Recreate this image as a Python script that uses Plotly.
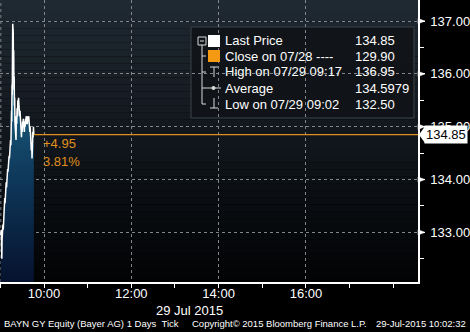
import plotly.graph_objects as go

# ---------------- data ----------------
DAY = "2015-07-29 "
times = ["09:00:30","09:01:00","09:01:20","09:01:40","09:02:00","09:02:20","09:02:40","09:03:00",
         "09:03:30","09:04:00","09:04:30","09:05:00","09:05:30","09:06:00","09:06:30","09:07:00",
         "09:07:30","09:08:00","09:08:30","09:09:00","09:09:30","09:10:00","09:10:30","09:11:00",
         "09:11:30","09:12:00","09:12:30","09:13:00","09:13:30","09:14:00","09:14:30","09:15:00",
         "09:15:20","09:15:40","09:16:00","09:16:20","09:16:40","09:17:00","09:17:20","09:17:40",
         "09:18:00","09:18:20","09:18:40","09:19:00","09:19:20","09:19:40","09:20:00","09:20:30",
         "09:21:00","09:21:30","09:22:00","09:22:30","09:23:00","09:23:30","09:24:00","09:24:30",
         "09:25:00","09:25:30","09:26:00","09:26:30","09:27:00","09:27:30","09:28:00","09:28:30",
         "09:29:00","09:29:30","09:30:00","09:30:30","09:31:00","09:31:30","09:32:00","09:32:30",
         "09:33:00","09:33:30","09:34:00","09:34:30","09:35:00","09:35:30","09:36:00","09:36:30",
         "09:37:00","09:37:30","09:38:00","09:38:30","09:39:00","09:39:30","09:40:00","09:40:30",
         "09:41:00","09:41:30","09:42:00","09:42:30","09:43:00","09:43:30","09:44:00","09:44:30",
         "09:45:00","09:45:30","09:46:00"]
prices = [132.95,132.70,133.05,132.80,132.50,132.85,133.10,132.95,
          133.15,133.05,133.30,133.45,133.40,133.65,133.55,133.75,
          133.70,133.95,133.85,134.05,134.00,134.20,134.15,134.35,
          134.25,134.45,134.40,134.60,134.50,134.75,134.65,134.85,
          135.30,135.10,135.80,135.60,136.40,136.95,136.60,136.80,
          136.20,136.45,135.70,135.95,135.40,135.55,135.10,134.80,
          135.00,134.75,135.20,135.05,135.35,135.20,135.50,135.35,
          135.55,135.40,135.45,135.20,135.30,135.05,135.25,134.95,
          134.80,135.00,134.90,135.10,135.00,135.15,134.95,135.05,
          134.90,135.10,135.00,135.15,135.05,135.20,135.10,135.15,
          135.05,135.20,135.10,135.15,135.20,135.05,135.10,134.90,
          135.00,134.80,134.95,134.55,134.70,134.40,134.60,134.90,
          134.80,135.00,134.85]

last_price = 134.85
legend_labels = ["Last Price", "Close on 07/28 ----", "High on 07/29 09:17", "Average", "Low on 07/29 09:02"]
legend_values = ["134.85", "129.90", "136.95", "134.5979", "132.50"]
change_text = ["+4.95", "3.81%"]
y_ticks = [133, 134, 135, 136, 137]
x_ticks = ["10:00", "12:00", "14:00", "16:00"]
x_start, x_end = DAY + "08:59:30", DAY + "18:34:00"
y_min, y_max = 132.06, 137.40

# ---------------- layout helpers ----------------
W, H = 470, 332
ML, MR, MT, MB = 0, 52, 0, 50
PW, PH = W - ML - MR, H - MT - MB
FONT = "Liberation Sans, Arial, sans-serif"
ORANGE = "#e0901f"

def px(x):
    return (x - ML) / PW

def py(y):
    return 1 - (y - MT) / PH

xs = [DAY + t for t in times]

fig = go.Figure()
fig.add_trace(go.Scatter(
    x=xs, y=prices, mode="lines",
    line=dict(color="white", width=1.5),
    fill="tozeroy",
    fillgradient=dict(type="vertical", start=y_min, stop=136.2,
                      colorscale=[[0, "#06122e"], [0.5, "#0f3a5c"], [1, "#1e6a8c"]]),
    hoverinfo="skip", showlegend=False))
fig.add_trace(go.Scatter(
    x=[xs[-1], x_end], y=[last_price, last_price], mode="lines",
    line=dict(color=ORANGE, width=1.2), hoverinfo="skip", showlegend=False))

shapes = []
# background gradient of plot area
top = (31, 41, 50)
bot = (2, 3, 5)
N = 40
for i in range(N):
    f = i / (N - 1)
    c = tuple(int(round(top[k] + (bot[k] - top[k]) * f)) for k in range(3))
    shapes.append(dict(type="rect", xref="paper", yref="paper", layer="below",
                       x0=0, x1=1, y0=1 - (i + 1) / N, y1=1 - i / N,
                       fillcolor="rgb(%d,%d,%d)" % c, line=dict(width=0)))
# left dotted edge line
shapes.append(dict(type="line", xref="paper", yref="paper", layer="below", x0=0.002, x1=0.002, y0=0, y1=1,
                   line=dict(color="#7d8389", width=1, dash="3px,3px")))
# legend box
shapes.append(dict(type="rect", xref="paper", yref="paper", layer="below",
                   x0=px(191), x1=px(414), y0=py(118), y1=py(27),
                   fillcolor="rgba(16,20,24,0.92)", line=dict(color="#3c4248", width=1)))
# y tick triangles
for v in y_ticks:
    shapes.append(dict(type="path", xref="paper", yref="y", layer="above",
                       path="M %f,%f L %f,%f L %f,%f Z" % (1.0, v + 0.05, px(425), v, 1.0, v - 0.05),
                       fillcolor="white", line=dict(color="white", width=0.5)))
# last price tag pointer
shapes.append(dict(type="path", xref="paper", yref="y", layer="above",
                   path="M %f,%f L %f,%f L %f,%f Z" % (px(419), last_price, px(425), last_price + 0.16,
                                                        px(425), last_price - 0.16),
                   fillcolor="white", line=dict(width=0)))
# legend tree lines and symbols
LC = "#d8d8d8"
rows = [41, 56, 72, 88, 104]
shapes.append(dict(type="rect", xref="paper", yref="paper", x0=px(198), x1=px(206), y0=py(45), y1=py(37),
                   line=dict(color=LC, width=1)))
shapes.append(dict(type="line", xref="paper", yref="paper", x0=px(200), x1=px(204), y0=py(41), y1=py(41),
                   line=dict(color=LC, width=1)))
shapes.append(dict(type="line", xref="paper", yref="paper", x0=px(202), x1=px(202), y0=py(45), y1=py(104),
                   line=dict(color=LC, width=1)))
for r in rows[1:]:
    shapes.append(dict(type="line", xref="paper", yref="paper", x0=px(202), x1=px(206), y0=py(r), y1=py(r),
                       line=dict(color=LC, width=1)))
shapes.append(dict(type="rect", xref="paper", yref="paper", x0=px(208), x1=px(220), y0=py(47), y1=py(35),
                   fillcolor="white", line=dict(width=0)))
shapes.append(dict(type="rect", xref="paper", yref="paper", x0=px(208), x1=px(220), y0=py(62), y1=py(50),
                   fillcolor="#f39a12", line=dict(width=0)))
# high symbol
shapes.append(dict(type="line", xref="paper", yref="paper", x0=px(210), x1=px(218), y0=py(67), y1=py(67),
                   line=dict(color=LC, width=1)))
shapes.append(dict(type="line", xref="paper", yref="paper", x0=px(214), x1=px(214), y0=py(67), y1=py(77),
                   line=dict(color=LC, width=1)))
# average symbol
shapes.append(dict(type="line", xref="paper", yref="paper", x0=px(206), x1=px(221), y0=py(88), y1=py(88),
                   line=dict(color=LC, width=1)))
shapes.append(dict(type="circle", xref="paper", yref="paper", x0=px(211.5), x1=px(215.5), y0=py(90), y1=py(86),
                   fillcolor=LC, line=dict(width=0)))
# low symbol
shapes.append(dict(type="line", xref="paper", yref="paper", x0=px(214), x1=px(214), y0=py(98), y1=py(108),
                   line=dict(color=LC, width=1)))
shapes.append(dict(type="line", xref="paper", yref="paper", x0=px(210), x1=px(218), y0=py(108), y1=py(108),
                   line=dict(color=LC, width=1)))

ann = []
for lab, val, r in zip(legend_labels, legend_values, rows):
    ann.append(dict(xref="paper", yref="paper", x=px(223), y=py(r), xanchor="left", yanchor="middle",
                    text=lab, showarrow=False, font=dict(family=FONT, size=13, color="white")))
    ann.append(dict(xref="paper", yref="paper", x=px(353), y=py(r), xanchor="left", yanchor="middle",
                    text=val, showarrow=False, font=dict(family=FONT, size=13, color="white")))
# change labels
for t, r in zip(change_text, [143, 161]):
    ann.append(dict(xref="paper", yref="paper", x=px(41), y=py(r), xanchor="left", yanchor="middle",
                    text=t, showarrow=False, font=dict(family=FONT, size=13, color=ORANGE)))
# last price tag
ann.append(dict(xref="paper", yref="y", x=px(424), y=last_price, xanchor="left", yanchor="middle",
                text="134.85", showarrow=False, bgcolor="white", borderpad=1,
                font=dict(family=FONT, size=13, color="black")))
# date label
ann.append(dict(xref="paper", yref="paper", x=px(189), y=py(310), xanchor="center", yanchor="middle",
                text="29 Jul 2015", showarrow=False, font=dict(family=FONT, size=13, color="white")))
# footer
FY = py(323.5)
ann.append(dict(xref="paper", yref="paper", x=px(2), y=FY, xanchor="left", yanchor="middle",
                text="BAYN GY Equity (Bayer AG) 1 Days&nbsp;&nbsp;Tick", showarrow=False,
                font=dict(family=FONT, size=9.5, color="white")))
ann.append(dict(xref="paper", yref="paper", x=px(190), y=FY, xanchor="left", yanchor="middle",
                text="Copyright© 2015 Bloomberg Finance L.P.", showarrow=False,
                font=dict(family=FONT, size=9.5, color="white")))
ann.append(dict(xref="paper", yref="paper", x=px(468), y=FY, xanchor="right", yanchor="middle",
                text="29-Jul-2015 10:02:32", showarrow=False,
                font=dict(family=FONT, size=9.5, color="white")))

fig.update_layout(
    width=W, height=H, margin=dict(l=ML, r=MR, t=MT, b=MB),
    paper_bgcolor="black", plot_bgcolor="black",
    font=dict(family=FONT, size=13, color="white"),
    shapes=shapes, annotations=ann, hovermode=False,
    xaxis=dict(type="date", range=[x_start, x_end],
               tickvals=[DAY + t for t in x_ticks], ticktext=x_ticks,
               showgrid=True, gridcolor="#80868c", griddash="3px,3px", gridwidth=1,
               showline=True, linecolor="white", linewidth=1.5, ticks="", ticklabelstandoff=-1,
               tickfont=dict(family=FONT, size=13, color="white"),
               minor=dict(dtick=3600000, tick0=DAY + "11:00", ticks="outside", ticklen=4,
                          tickcolor="white", showgrid=False),
               zeroline=False, fixedrange=True),
    yaxis=dict(side="right", range=[y_min, y_max], tickvals=y_ticks, tickformat=".2f",
               showgrid=True, gridcolor="#80868c", griddash="3px,3px", gridwidth=1,
               showline=True, linecolor="white", linewidth=1.5, ticks="outside", ticklen=5,
               tickcolor="white", ticklabelstandoff=3, tickfont=dict(family=FONT, size=13, color="white"),
               minor=dict(dtick=0.5, tick0=132.5, ticks="outside", ticklen=4, tickcolor="white", showgrid=False),
               zeroline=False, fixedrange=True),
)

fig.write_html("out.html")
